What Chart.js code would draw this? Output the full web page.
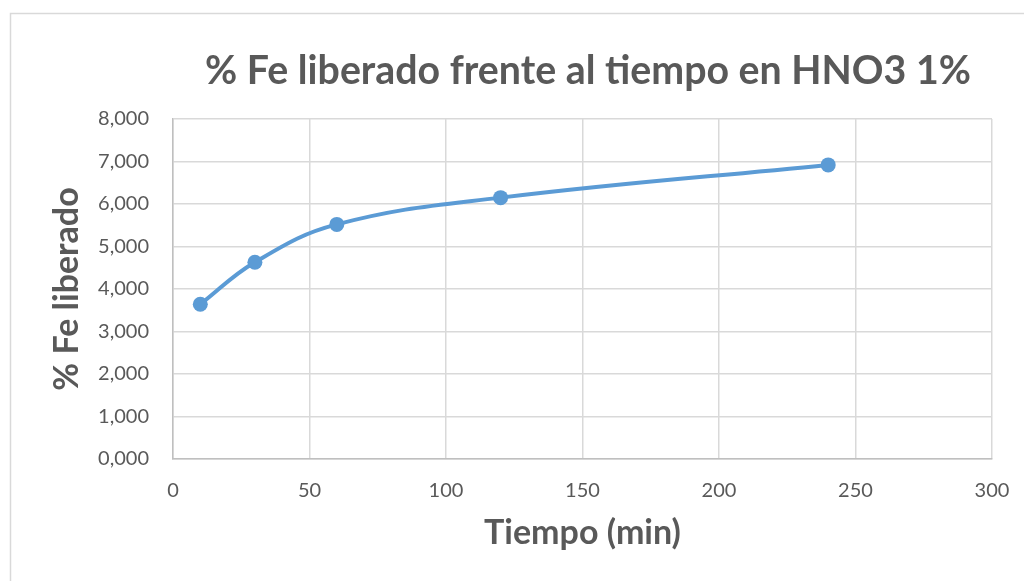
<!DOCTYPE html>
<html lang="es">
<head>
<meta charset="utf-8">
<title>% Fe liberado frente al tiempo en HNO3 1%</title>
<script src="https://cdn.jsdelivr.net/npm/chart.js@4.4.1/dist/chart.umd.min.js"></script>
<style>
  html, body { margin: 0; padding: 0; background: #ffffff; }
  canvas { display: block; }
</style>
</head>
<body>
<canvas id="chart" width="1024" height="581"></canvas>
<script>
// Tiempo de contacto (min) y % de Fe liberado
const tiempos = [10, 30, 60, 120, 240];
const feLiberado = [3.64, 4.63, 5.52, 6.15, 6.92];

const chartTitle = '% Fe liberado frente al tiempo en HNO3 1%';
const xTitle = 'Tiempo (min)';
const yTitle = '% Fe liberado';

const textColor = '#595959';
const fontFamily = 'Lato, "Open Sans", sans-serif';

// Formato con coma decimal y tres decimales: 8,000
const formatDecimal = v => Number(v).toFixed(3).replace('.', ',');

// Marco exterior del gráfico y título centrado sobre el área de trazado
const frameAndTitle = {
  id: 'frameAndTitle',
  beforeDraw(chart) {
    const ctx = chart.ctx;
    ctx.save();
    ctx.fillStyle = '#ffffff';
    ctx.fillRect(0, 0, chart.width, chart.height);
    ctx.strokeStyle = '#d9d9d9';
    ctx.lineWidth = 1.5;
    ctx.strokeRect(10.5, 13.5, chart.width + 20, chart.height + 20);
    ctx.restore();
  },
  afterDraw(chart) {
    const ctx = chart.ctx;
    ctx.save();
    ctx.fillStyle = textColor;
    ctx.font = 'bold 39.3px ' + fontFamily;
    ctx.textAlign = 'center';
    ctx.textBaseline = 'alphabetic';
    ctx.fillText(chartTitle, 588, 84);
    ctx.restore();
  }
};

new Chart(document.getElementById('chart'), {
  type: 'line',
  data: {
    datasets: [{
      data: tiempos.map((t, i) => ({ x: t, y: feLiberado[i] })),
      borderColor: '#5b9bd5',
      backgroundColor: '#5b9bd5',
      borderWidth: 4,
      pointRadius: 7.5,
      pointHoverRadius: 7.5,
      pointBorderWidth: 0,
      tension: 0.4,
      fill: false
    }]
  },
  options: {
    responsive: false,
    animation: false,
    layout: { padding: { left: 20, right: 32, top: 119, bottom: 27 } },
    plugins: {
      legend: { display: false },
      title: { display: false },
      tooltip: { enabled: false }
    },
    scales: {
      x: {
        type: 'linear',
        min: 0,
        max: 300,
        ticks: {
          stepSize: 50,
          padding: 20,
          color: textColor,
          font: { family: fontFamily, size: 20 }
        },
        grid: { color: '#d9d9d9', lineWidth: 1.5, drawTicks: false },
        border: { color: '#bfbfbf', width: 1.5 },
        title: {
          display: true,
          text: xTitle,
          color: textColor,
          font: { family: fontFamily, size: 34, weight: 'bold' },
          padding: { top: 0, bottom: 1 }
        },
        afterFit(scale) {
          scale.height = 95;
          scale.paddingLeft = 0;
          scale.paddingRight = 0;
        }
      },
      y: {
        min: 0,
        max: 8,
        ticks: {
          stepSize: 1,
          padding: 24,
          color: textColor,
          font: { family: fontFamily, size: 20 },
          callback: v => formatDecimal(v)
        },
        grid: { color: '#d9d9d9', lineWidth: 1.5, drawTicks: false },
        border: { color: '#bfbfbf', width: 1.5 },
        title: {
          display: true,
          text: yTitle,
          color: textColor,
          font: { family: fontFamily, size: 34, weight: 'bold' },
          padding: { top: 27, bottom: 0 }
        },
        afterFit(scale) {
          scale.width = 153;
          scale.paddingTop = 0;
          scale.paddingBottom = 0;
        }
      }
    }
  },
  plugins: [frameAndTitle]
});
</script>
</body>
</html>
